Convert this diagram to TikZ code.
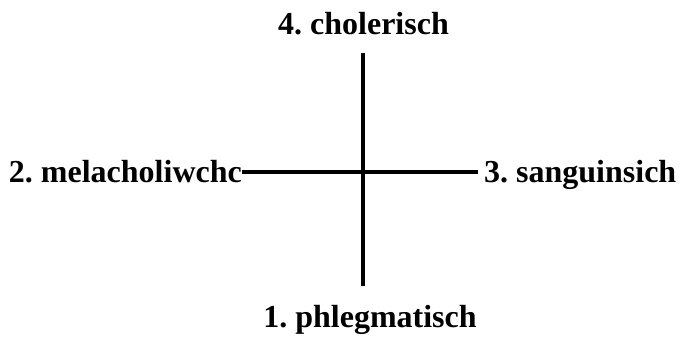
\documentclass[tikz,border=0pt]{standalone}
\usepackage{fontspec}
\setmainfont{Liberation Serif}
\usetikzlibrary{positioning}

\begin{document}
\frenchspacing
\begin{tikzpicture}[x=1pt,y=1pt,
 lbl/.style={inner sep=0pt,font=\bfseries\fontsize{32}{38}\selectfont},
 axis/.style={line width=3.5pt,draw=black}]
\useasboundingbox (0,0) rectangle (686,337);
\coordinate (c) at (363,165);
\node[lbl,anchor=base] (n4) at (363.5,302) {4. cholerisch};
\node[lbl,anchor=base] (n1) at (370,9) {1. phlegmatisch};
\node[lbl,anchor=base east] (n2) at (242,154.5) {2. melacholiwchc};
\node[lbl,anchor=base west] (n3) at (484,154.5) {3. sanguinsich};
\draw[axis,shorten <=17pt,shorten >=20pt] (n4.south -| c)--(n1.north -| c);
\draw[axis,shorten >=6pt] (n2.east |- c)--(n3.west |- c);
\end{tikzpicture}
\end{document}
